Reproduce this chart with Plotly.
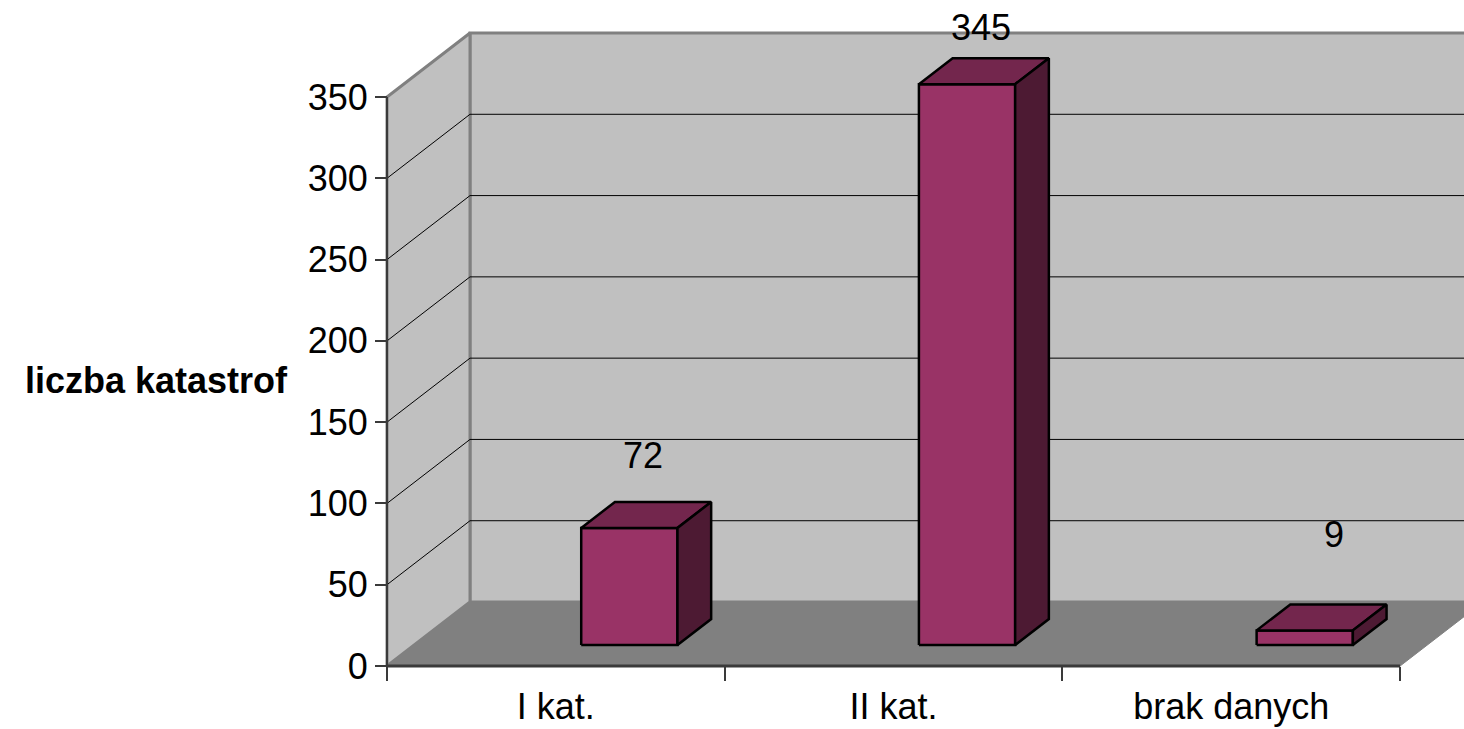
import plotly.graph_objects as go

# ---- data -------------------------------------------------------------
categories = ["I kat.", "II kat.", "brak danych"]
counts = [72, 345, 9]
value_ticks = [0, 50, 100, 150, 200, 250, 300, 350]
value_title = "liczba katastrof"

# extra placement of the value labels (pixels)
label_lift = [59, 44, 83]
label_nudge = [-3, -3, 12]

# ---- oblique projection set-up ------------------------------------------
W, H = 1464, 729
ORIGIN_X, ORIGIN_Y = 387, 666          # front corner of the floor (u=0, v=0)
PX_PER_CAT = 337.7                     # pixels per category slot
PX_PER_UNIT = 1.6257                   # pixels per count unit
DEPTH_U = 83 / PX_PER_CAT              # full depth of the box, in axis units
DEPTH_V = 64 / PX_PER_UNIT

BAR_OFFSET = 0.637                     # bar centre inside its slot
BAR_WIDTH = 0.285
BAR_FRONT = 0.328                      # depth fraction of the bar front face
BAR_BACK = 0.734                       # depth fraction of the bar back face

WALL = "#c0c0c0"
FLOOR = "#808080"
EDGE = "#808080"
AXIS = "#3a3a3a"
FRONT = "#993366"
TOP = "#73264d"
SIDE = "#4d1a33"
FONT = "Liberation Sans, Arial, sans-serif"

n = len(categories)
vmax = max(value_ticks)

fig = go.Figure()


def poly(us, vs, fill, line_color, line_width):
    fig.add_trace(go.Scatter(
        x=list(us) + [us[0]], y=list(vs) + [vs[0]],
        mode="lines", fill="toself", fillcolor=fill,
        line=dict(color=line_color, width=line_width),
        hoverinfo="skip", showlegend=False,
    ))


def segments(pairs, color, width):
    xs, ys = [], []
    for (u0, v0), (u1, v1) in pairs:
        xs += [u0, u1, None]
        ys += [v0, v1, None]
    fig.add_trace(go.Scatter(
        x=xs, y=ys, mode="lines",
        line=dict(color=color, width=width),
        hoverinfo="skip", showlegend=False,
    ))


# floor
poly([0, n, n + DEPTH_U, DEPTH_U], [0, 0, DEPTH_V, DEPTH_V], FLOOR, EDGE, 1)
# back wall
poly([DEPTH_U, n + DEPTH_U, n + DEPTH_U, DEPTH_U],
     [DEPTH_V, DEPTH_V, vmax + DEPTH_V, vmax + DEPTH_V], WALL, EDGE, 3)
# side wall
poly([0, DEPTH_U, DEPTH_U, 0], [0, DEPTH_V, vmax + DEPTH_V, vmax], WALL, EDGE, 3)

# grid lines on both walls
inner = [t for t in value_ticks if 0 < t < vmax]
segments([((DEPTH_U, t + DEPTH_V), (n + DEPTH_U, t + DEPTH_V)) for t in inner], "black", 1)
segments([((0, t), (DEPTH_U, t + DEPTH_V)) for t in inner], "black", 1)

# bars as boxes
du_b = DEPTH_U * (BAR_BACK - BAR_FRONT)
dv_b = DEPTH_V * (BAR_BACK - BAR_FRONT)
for i, val in enumerate(counts):
    u0 = i + BAR_OFFSET - BAR_WIDTH / 2 + DEPTH_U * BAR_FRONT
    u1 = u0 + BAR_WIDTH
    v0 = DEPTH_V * BAR_FRONT
    v1 = v0 + val
    poly([u0, u1, u1, u0], [v0, v0, v1, v1], FRONT, "black", 2.5)
    poly([u0, u1, u1 + du_b, u0 + du_b], [v1, v1, v1 + dv_b, v1 + dv_b], TOP, "black", 2.5)
    poly([u1, u1 + du_b, u1 + du_b, u1], [v0, v0 + dv_b, v1 + dv_b, v1], SIDE, "black", 2.5)

# front axis lines
segments([((0, 0), (0, vmax))], AXIS, 2)
segments([((0, 0), (n, 0))], AXIS, 3)

# value labels
mid = (BAR_FRONT + BAR_BACK) / 2
annotations = []
for i, val in enumerate(counts):
    annotations.append(dict(
        x=i + BAR_OFFSET + DEPTH_U * mid, y=val + DEPTH_V * mid,
        xref="x", yref="y", text=str(val), showarrow=False,
        yshift=label_lift[i], xshift=label_nudge[i],
        font=dict(family=FONT, size=36, color="black"),
    ))
annotations.append(dict(
    x=290 / W, y=(H - 381) / H, xref="paper", yref="paper",
    xanchor="right", yanchor="middle", showarrow=False,
    text="<b>%s</b>" % value_title,
    font=dict(family=FONT, size=36, color="black"),
))

fig.update_layout(
    width=W, height=H,
    margin=dict(l=0, r=0, t=0, b=0, pad=0, autoexpand=False),
    paper_bgcolor="white", plot_bgcolor="white",
    showlegend=False,
    annotations=annotations,
    xaxis=dict(
        domain=[0, 1], automargin=False,
        range=[-ORIGIN_X / PX_PER_CAT, (W - ORIGIN_X) / PX_PER_CAT],
        anchor="free", position=(H - ORIGIN_Y) / H,
        showgrid=False, zeroline=False, showline=False,
        tickmode="array",
        tickvals=[i + 0.5 for i in range(n)], ticktext=categories,
        ticks="outside", ticklen=9, tickcolor="rgba(0,0,0,0)",
        tickfont=dict(family=FONT, size=36, color="black"),
        minor=dict(tickmode="array", tickvals=list(range(n + 1)),
                   ticks="outside", ticklen=14, tickwidth=1.5, tickcolor=AXIS),
    ),
    yaxis=dict(
        domain=[0, 1], automargin=False,
        range=[-(H - ORIGIN_Y) / PX_PER_UNIT, ORIGIN_Y / PX_PER_UNIT],
        anchor="free", position=ORIGIN_X / W,
        showgrid=False, zeroline=False, showline=False,
        tickmode="array", tickvals=value_ticks,
        ticks="outside", ticklen=12, tickwidth=1.5, tickcolor=AXIS,
        tickfont=dict(family=FONT, size=36, color="black"),
    ),
)

fig.write_html("out.html")
